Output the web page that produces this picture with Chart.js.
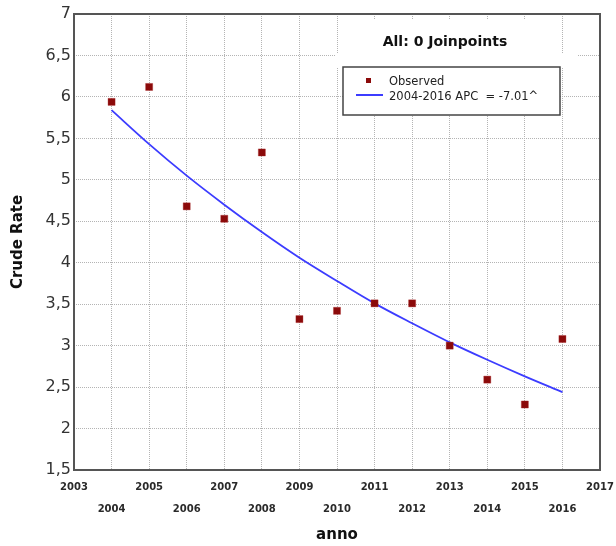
<!DOCTYPE html>
<html>
<head>
<meta charset="utf-8">
<title>Crude Rate - Joinpoint</title>
<script src="https://cdn.jsdelivr.net/npm/chart.js"></script>
<style>
    body {
        margin: 0;
        background: #ffffff;
    }
</style>
</head>
<body>
<canvas id="jpChart" width="616" height="546"></canvas>
<script>
    const years = [2004, 2005, 2006, 2007, 2008, 2009, 2010, 2011, 2012, 2013, 2014, 2015, 2016];
    const observed = [5.94, 6.12, 4.68, 4.53, 5.33, 3.32, 3.42, 3.51, 3.51, 3.00, 2.59, 2.29, 3.08];
    const modelled = [5.84, 5.43, 5.05, 4.70, 4.37, 4.06, 3.78, 3.51, 3.27, 3.04, 2.83, 2.63, 2.44];
    const seriesNames = ['Observed', '2004-2016 APC  = -7.01^'];
    const modelTitle = 'All: 0 Joinpoints';
    const xRange = [2003, 2017];
    const yRange = [1.5, 7];

    const pts = (xs, ys) => xs.map((x, i) => ({ x: x, y: ys[i] }));

    // title strip, legend box and outer frame
    const panelPlugin = {
        id: 'panel',
        beforeDatasetsDraw(chart) {
            const ctx = chart.ctx;
            const a = chart.chartArea;
            ctx.save();
            ctx.fillStyle = '#ffffff';
            ctx.fillRect(a.left + 265, a.top + 5, 223, 50);
            ctx.fillRect(a.left + 261, a.top + 39, 242, 15);
            ctx.fillStyle = '#111';
            ctx.font = 'bold 14px "DejaVu Sans"';
            ctx.textAlign = 'center';
            ctx.textBaseline = 'middle';
            ctx.fillText(modelTitle, a.left + 371, a.top + 28);
            ctx.restore();
        },
        afterDatasetsDraw(chart) {
            const ctx = chart.ctx;
            const a = chart.chartArea;
            const ds = chart.data.datasets;
            const bx = a.left + 269, by = a.top + 53, bw = 217, bh = 48;
            ctx.save();
            ctx.fillStyle = '#ffffff';
            ctx.fillRect(bx, by, bw, bh);
            ctx.strokeStyle = '#444';
            ctx.lineWidth = 1.5;
            ctx.strokeRect(bx, by, bw, bh);

            ctx.fillStyle = ds[0].backgroundColor;
            ctx.fillRect(bx + 23, by + 11, 5, 5);
            ctx.strokeStyle = ds[1].borderColor;
            ctx.lineWidth = 2;
            ctx.beginPath();
            ctx.moveTo(bx + 13, by + 28);
            ctx.lineTo(bx + 40, by + 28);
            ctx.stroke();

            ctx.fillStyle = '#222';
            ctx.font = '11.5px "DejaVu Sans"';
            ctx.textAlign = 'left';
            ctx.textBaseline = 'middle';
            ctx.fillText(seriesNames[0], bx + 46, by + 15);
            ctx.fillText(seriesNames[1], bx + 46, by + 30);

            ctx.strokeStyle = '#555';
            ctx.lineWidth = 2;
            ctx.strokeRect(a.left, a.top, a.right - a.left, a.bottom - a.top);
            ctx.restore();
        }
    };

    const ctx = document.getElementById('jpChart').getContext('2d');
    new Chart(ctx, {
        type: 'scatter',
        data: {
            datasets: [
                {
                    label: seriesNames[0],
                    data: pts(years, observed),
                    pointStyle: 'rect',
                    pointRadius: 5,
                    backgroundColor: '#8b0a0a',
                    borderColor: 'rgba(170, 40, 40, 0.35)',
                    borderWidth: 1,
                    showLine: false
                },
                {
                    label: seriesNames[1],
                    data: pts(years, modelled),
                    showLine: true,
                    borderColor: '#3c3cff',
                    borderWidth: 1.8,
                    pointRadius: 0,
                    cubicInterpolationMode: 'monotone'
                }
            ]
        },
        options: {
            responsive: false,
            animation: false,
            devicePixelRatio: 1,
            layout: {
                padding: { top: 14, right: 16, left: 0, bottom: 0 }
            },
            plugins: {
                legend: { display: false },
                tooltip: { enabled: false }
            },
            scales: {
                x: {
                    type: 'linear',
                    min: xRange[0],
                    max: xRange[1],
                    afterFit(s) {
                        s.height = 76;
                        s.paddingLeft = 0;
                        s.paddingRight = 0;
                    },
                    ticks: {
                        stepSize: 1,
                        autoSkip: false,
                        maxRotation: 0,
                        padding: 6,
                        color: '#2a2a2a',
                        font: { family: 'DejaVu Sans', size: 10, weight: 'bold', lineHeight: 2.2 },
                        callback: v => (v % 2 === 1 ? [String(v), ''] : ['', String(v)])
                    },
                    grid: { color: '#b4b4b4', drawTicks: false },
                    border: { display: false, dash: [1, 1] },
                    title: {
                        display: true,
                        text: 'anno',
                        color: '#111',
                        font: { family: 'DejaVu Sans', size: 15, weight: 'bold' },
                        padding: { top: 0, bottom: 2 }
                    }
                },
                y: {
                    min: yRange[0],
                    max: yRange[1],
                    afterFit(s) {
                        s.width = 74;
                        s.paddingTop = 0;
                        s.paddingBottom = 0;
                    },
                    ticks: {
                        stepSize: 0.5,
                        padding: 3,
                        color: '#333',
                        font: { family: 'DejaVu Sans', size: 16 },
                        callback: v => String(v).replace('.', ',')
                    },
                    grid: { color: '#b4b4b4', drawTicks: false },
                    border: { display: false, dash: [1, 1] },
                    title: {
                        display: true,
                        text: 'Crude Rate',
                        color: '#111',
                        font: { family: 'DejaVu Sans', size: 15, weight: 'bold' },
                        padding: { top: 9, bottom: 0 }
                    }
                }
            }
        },
        plugins: [panelPlugin]
    });
</script>
</body>
</html>
